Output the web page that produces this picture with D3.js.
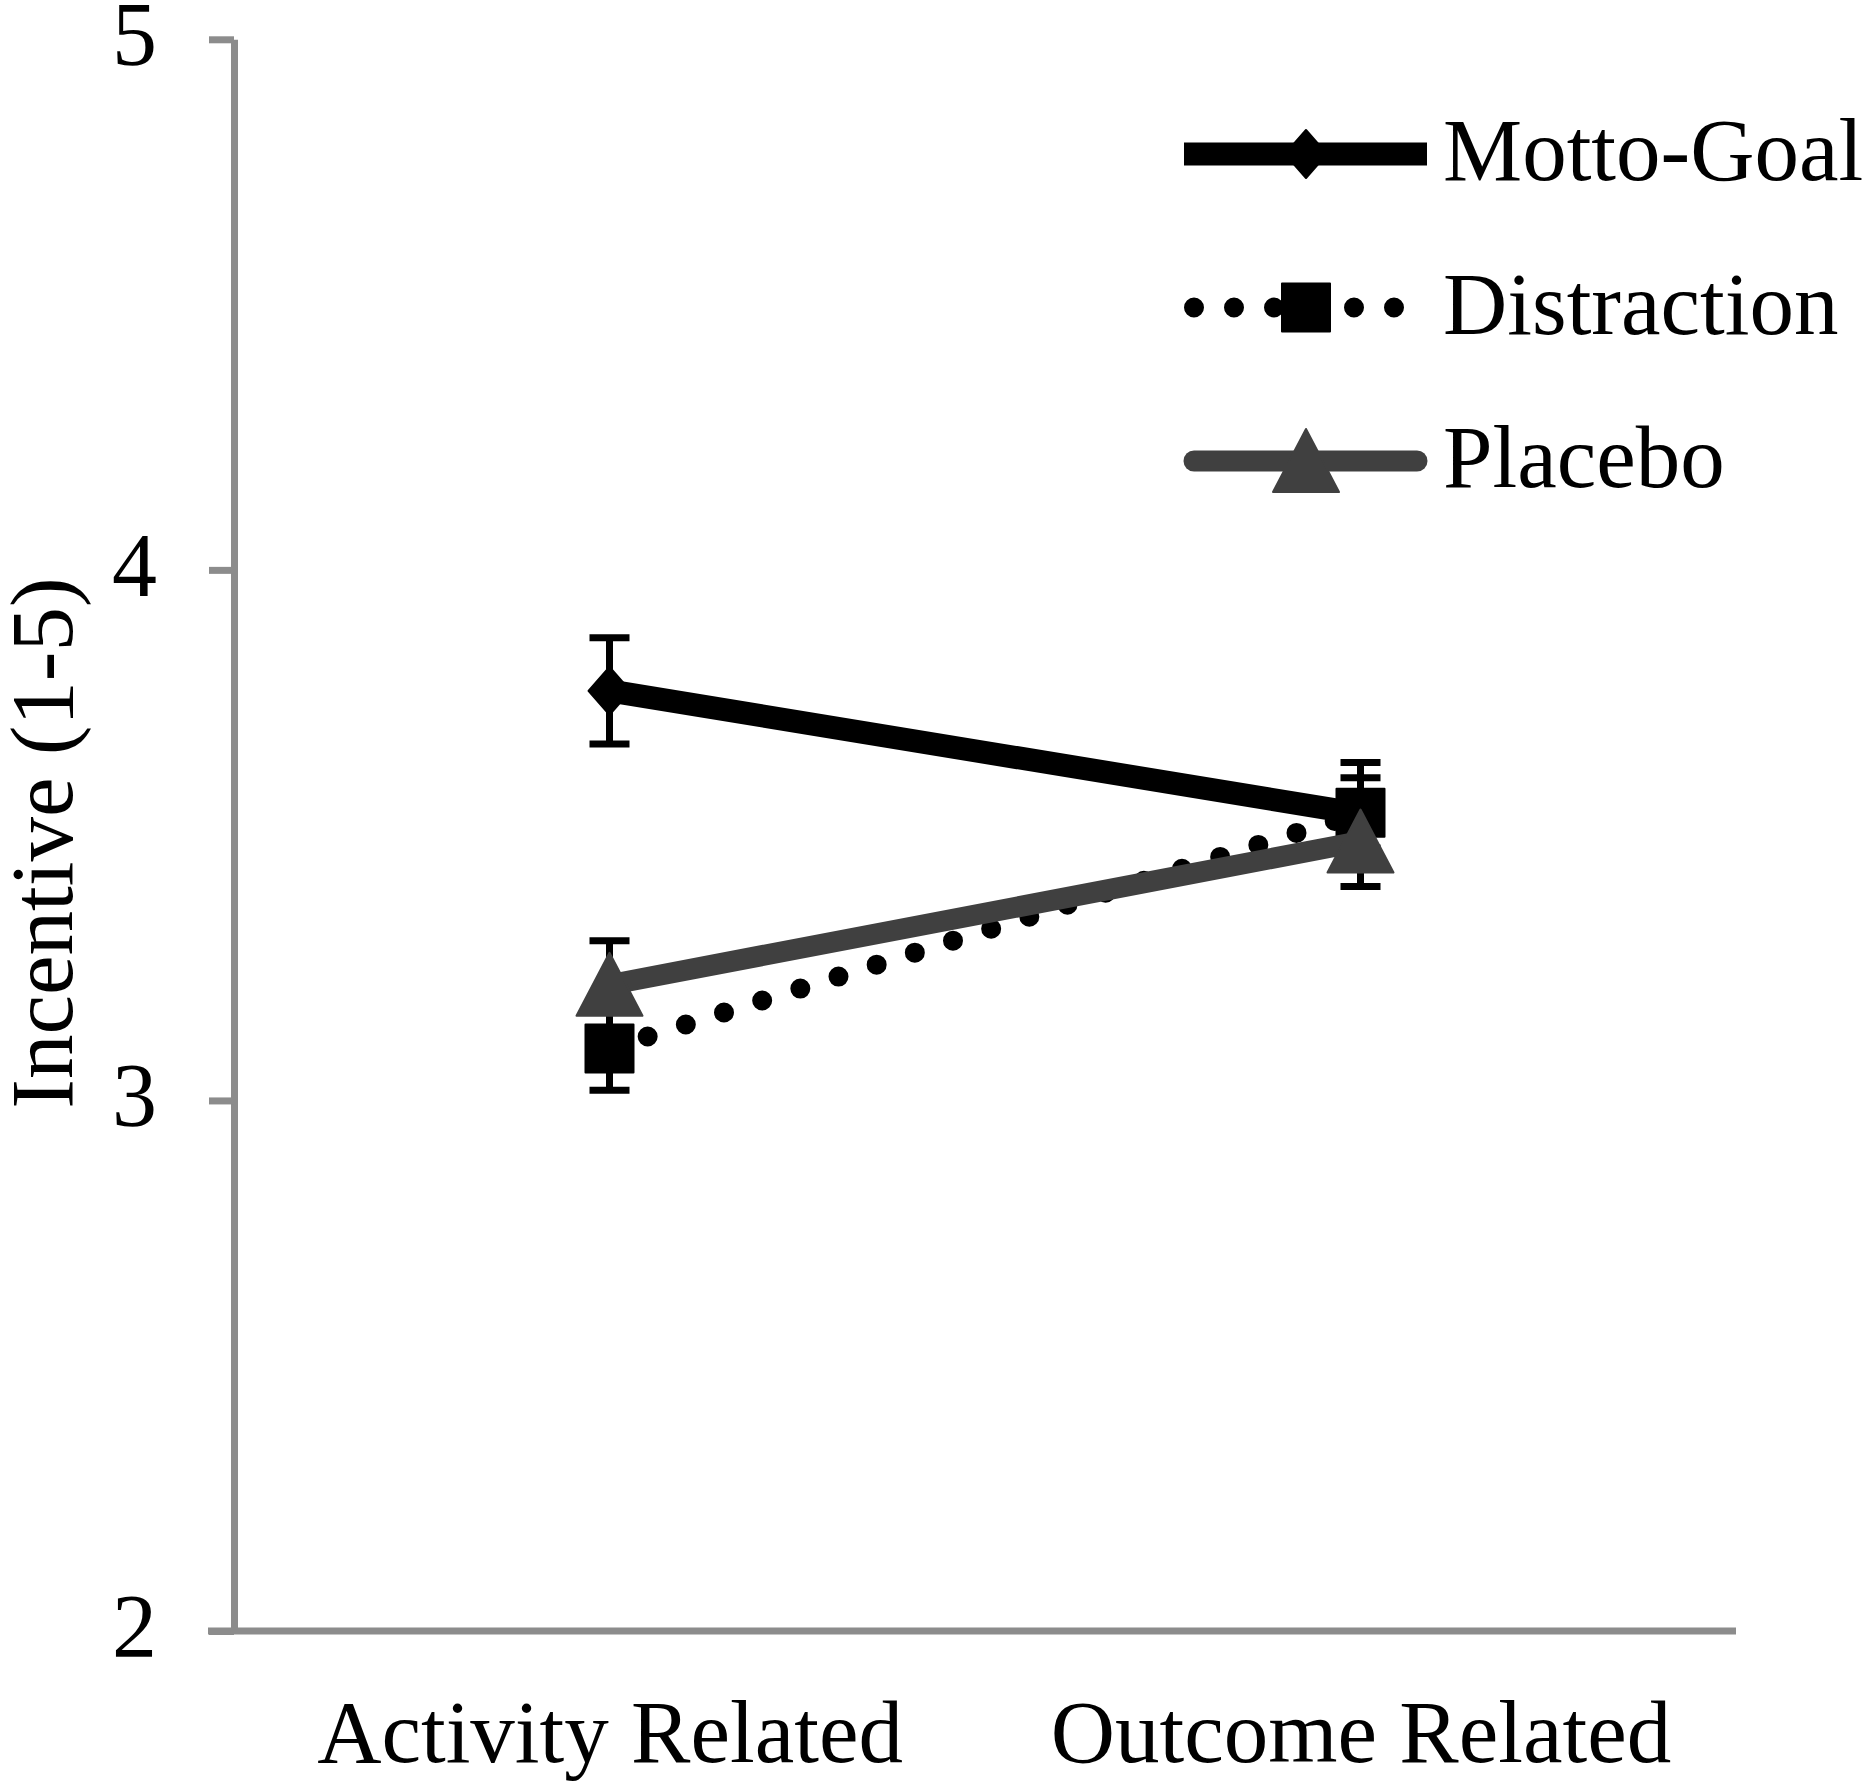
<!DOCTYPE html>
<html>
<head>
<meta charset="utf-8">
<script src="https://cdn.jsdelivr.net/npm/d3@7/dist/d3.min.js"></script>
<style>
    body { margin: 0; background: #fff; }
    text { font-family: "Times New Roman", "Liberation Serif", serif; fill: #000; }
</style>
</head>
<body>
<svg id="chart" width="1867" height="1790"></svg>
<script>
// values
var categories = ["Activity Related", "Outcome Related"];
var seriesNames = ["Motto-Goal", "Distraction", "Placebo"];
var mottoGoal = [3.772, 3.540];
var mottoGoalErr = [0.100, 0.097];
var distraction = [3.098, 3.542];
var distractionErr = [0.079, 0.066];
var placebo = [3.218, 3.488];
var placeboErr = [0.083, 0.085];
var yTicks = [2, 3, 4, 5];
var yTitle = "Incentive (1-5)";

var svg = d3.select("#chart");
svg.append("rect").attr("width", 1867).attr("height", 1790).attr("fill", "#fff");

var plotLeft = 234, plotRight = 1736, plotTop = 39.3, plotBottom = 1631;
var axisColor = "#8c8c8c";

var scaleX = d3.scalePoint().domain(categories).range([plotLeft, plotRight]).padding(0.5);
var scaleY = d3.scaleLinear().domain([2, 5]).range([plotBottom, plotTop]);

var styles = {
    "Motto-Goal": { color: "#000", width: 23, dash: null, cap: "butt", marker: "diamond" },
    "Distraction": { color: "#000", width: 20, dash: "0 40", cap: "round", marker: "square" },
    "Placebo": { color: "#404040", width: 21, dash: null, cap: "round", marker: "triangle" }
};

function markerPath(shape) {
    if (shape === "diamond") return "M0,-24L21,0L0,24L-21,0Z";
    if (shape === "square") return "M-24,-24H24V24H-24Z";
    return "M0,-32L33,31L-33,31Z";
}

var series = [
    { id: "Motto-Goal", values: mottoGoal, err: mottoGoalErr },
    { id: "Distraction", values: distraction, err: distractionErr },
    { id: "Placebo", values: placebo, err: placeboErr }
];

// y axis
var yAxis = svg.append("g")
    .attr("transform", "translate(" + plotLeft + ",0)")
    .call(d3.axisLeft(scaleY)
        .tickValues(yTicks)
        .tickSize(25)
        .tickSizeOuter(0)
        .tickPadding(52)
        .tickFormat(d3.format("d")));
yAxis.select(".domain").attr("stroke", axisColor).attr("stroke-width", 7);
yAxis.selectAll(".tick line").attr("stroke", axisColor).attr("stroke-width", 7);
yAxis.selectAll(".tick text")
    .attr("dy", "0.28em")
    .style("font-size", "90px")
    .style("font-family", "'Times New Roman', 'Liberation Serif', serif")
    .attr("fill", "#000");

// x axis
var xAxis = svg.append("g")
    .attr("transform", "translate(0," + plotBottom + ")")
    .call(d3.axisBottom(scaleX).tickSize(0).tickSizeOuter(0).tickPadding(68));
xAxis.select(".domain").attr("stroke", axisColor).attr("stroke-width", 7)
    .attr("d", "M" + (plotLeft - 26) + ",0H" + plotRight);
xAxis.selectAll(".tick text")
    .style("font-size", "89px")
    .style("font-family", "'Times New Roman', 'Liberation Serif', serif")
    .attr("fill", "#000");

// axis title
svg.append("text")
    .attr("transform", "translate(72,843) rotate(-90)")
    .attr("text-anchor", "middle")
    .style("font-size", "89px")
    .text(yTitle);

var lineDraw = d3.line()
    .x(function(d, i) { return scaleX(categories[i]); })
    .y(function(d) { return scaleY(d); });

var groups = svg.selectAll(".series")
    .data(series)
    .enter().append("g")
    .attr("class", "series");

// error bars
groups.each(function(s) {
    var g = d3.select(this);
    var bars = g.selectAll(".err")
        .data(s.values.map(function(v, i) { return { x: scaleX(categories[i]), lo: v - s.err[i], hi: v + s.err[i] }; }))
        .enter().append("g")
        .attr("class", "err")
        .attr("stroke", "#000")
        .attr("stroke-width", 7);
    bars.append("line")
        .attr("x1", function(d) { return d.x; }).attr("x2", function(d) { return d.x; })
        .attr("y1", function(d) { return scaleY(d.hi); }).attr("y2", function(d) { return scaleY(d.lo); });
    bars.append("line")
        .attr("x1", function(d) { return d.x - 20; }).attr("x2", function(d) { return d.x + 20; })
        .attr("y1", function(d) { return scaleY(d.hi); }).attr("y2", function(d) { return scaleY(d.hi); });
    bars.append("line")
        .attr("x1", function(d) { return d.x - 20; }).attr("x2", function(d) { return d.x + 20; })
        .attr("y1", function(d) { return scaleY(d.lo); }).attr("y2", function(d) { return scaleY(d.lo); });
});

groups.append("path")
    .attr("d", function(d) { return lineDraw(d.values); })
    .attr("fill", "none")
    .attr("stroke", function(d) { return styles[d.id].color; })
    .attr("stroke-width", function(d) { return styles[d.id].width; })
    .attr("stroke-linecap", function(d) { return styles[d.id].cap; })
    .attr("stroke-dasharray", function(d) { return styles[d.id].dash; });

groups.selectAll(".marker")
    .data(function(d) { return d.values.map(function(v, i) { return { id: d.id, v: v, cat: categories[i] }; }); })
    .enter().append("path")
    .attr("class", "marker")
    .attr("d", function(d) { return markerPath(styles[d.id].marker); })
    .attr("transform", function(d) { return "translate(" + scaleX(d.cat) + "," + scaleY(d.v) + ")"; })
    .attr("fill", function(d) { return styles[d.id].color; })
    .attr("stroke", function(d) { return styles[d.id].color; })
    .attr("stroke-width", 2)
    .attr("stroke-linejoin", "round");

// legend
var legend = svg.append("g")
    .selectAll("g")
    .data(seriesNames)
    .enter().append("g")
    .attr("transform", function(d, i) { return "translate(1184," + (154 + i * 153.5) + ")"; });

legend.append("line")
    .attr("x1", function(d) { return d === "Motto-Goal" ? 0 : 10; })
    .attr("x2", function(d) { return d === "Motto-Goal" ? 243 : (d === "Distraction" ? 212 : 233); })
    .attr("y1", 0).attr("y2", 0)
    .attr("stroke", function(d) { return styles[d].color; })
    .attr("stroke-width", function(d) { return styles[d].width; })
    .attr("stroke-linecap", function(d) { return styles[d].cap; })
    .attr("stroke-dasharray", function(d) { return styles[d].dash; });

legend.append("path")
    .attr("d", function(d) { return markerPath(styles[d].marker); })
    .attr("transform", "translate(122,0)")
    .attr("fill", function(d) { return styles[d].color; })
    .attr("stroke", function(d) { return styles[d].color; })
    .attr("stroke-width", 2)
    .attr("stroke-linejoin", "round");

legend.append("text")
    .attr("x", 259)
    .attr("y", 26)
    .style("font-size", "89px")
    .text(function(d) { return d; });
</script>
</body>
</html>
